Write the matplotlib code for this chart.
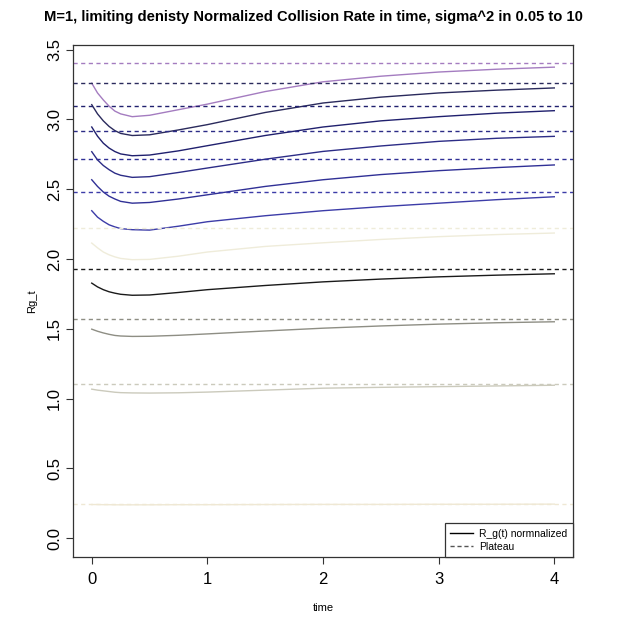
import matplotlib
matplotlib.use('Agg')
import matplotlib.pyplot as plt
from matplotlib.lines import Line2D

plt.rcParams['font.family'] = ['Liberation Sans', 'DejaVu Sans']

# time grid the curves were read at
time = [0, 0.05, 0.1, 0.15, 0.2, 0.25, 0.35, 0.5, 0.75, 1, 1.5, 2, 2.5, 3, 3.5, 4]

# normalized collision rate, one row per sigma^2 (top curve first)
rg_1 = [3.26, 3.19, 3.14, 3.095, 3.06, 3.04, 3.02, 3.03, 3.07, 3.11, 3.20, 3.27, 3.31, 3.34, 3.36, 3.375]
rg_2 = [3.106, 3.04, 2.99, 2.95, 2.92, 2.90, 2.885, 2.89, 2.925, 2.963, 3.05, 3.118, 3.16, 3.19, 3.21, 3.226]
rg_3 = [2.946, 2.88, 2.83, 2.795, 2.77, 2.753, 2.74, 2.745, 2.775, 2.812, 2.885, 2.946, 2.99, 3.02, 3.045, 3.063]
rg_4 = [2.769, 2.71, 2.67, 2.64, 2.615, 2.60, 2.585, 2.59, 2.62, 2.652, 2.715, 2.771, 2.81, 2.843, 2.865, 2.879]
rg_5 = [2.568, 2.52, 2.48, 2.45, 2.43, 2.413, 2.40, 2.405, 2.43, 2.46, 2.52, 2.568, 2.605, 2.633, 2.655, 2.674]
rg_6 = [2.346, 2.30, 2.27, 2.245, 2.23, 2.218, 2.21, 2.207, 2.235, 2.267, 2.31, 2.346, 2.375, 2.40, 2.425, 2.446]
rg_7 = [2.114, 2.08, 2.05, 2.03, 2.015, 2.004, 1.995, 1.997, 2.02, 2.05, 2.09, 2.116, 2.14, 2.16, 2.175, 2.186]
rg_8 = [1.827, 1.80, 1.78, 1.765, 1.755, 1.747, 1.74, 1.742, 1.76, 1.78, 1.81, 1.836, 1.856, 1.872, 1.884, 1.894]
rg_9 = [1.497, 1.482, 1.47, 1.46, 1.452, 1.448, 1.445, 1.446, 1.453, 1.463, 1.484, 1.504, 1.52, 1.533, 1.543, 1.55]
rg_10 = [1.067, 1.06, 1.055, 1.05, 1.045, 1.042, 1.040, 1.039, 1.041, 1.046, 1.06, 1.074, 1.08, 1.085, 1.09, 1.095]
rg_11 = [0.240, 0.240, 0.239, 0.239, 0.238, 0.238, 0.238, 0.238, 0.239, 0.239, 0.240, 0.241, 0.241, 0.242, 0.242, 0.243]

curves = [rg_1, rg_2, rg_3, rg_4, rg_5, rg_6, rg_7, rg_8, rg_9, rg_10, rg_11]
plateaus = [3.407, 3.262, 3.10, 2.92, 2.715, 2.478, 2.222, 1.93, 1.57, 1.105, 0.244]

colors = ['#a47cc0', '#2a2a5c', '#20206e', '#2c2c86', '#303096', '#3c3ca8',
          '#efecda', '#1a1a1a', '#8e8e84', '#cbcabc', '#efe8d4']

fig = plt.figure(figsize=(6.26, 6.18), dpi=100)
ax = fig.add_axes([0.117, 0.0987, 0.798, 0.829])

for rg, pl, c in zip(curves, plateaus, colors):
    ax.plot(time, rg, color=c, lw=1.0)
    ax.axhline(pl, color=c, lw=1.0, ls=(0, (3, 2.5)))

ax.set_xlim(-0.16, 4.16)
ax.set_ylim(-0.136, 3.536)
ax.set_xticks([0, 1, 2, 3, 4])
ax.set_yticks([0, 0.5, 1, 1.5, 2, 2.5, 3, 3.5])
ax.set_yticklabels(['0.0', '0.5', '1.0', '1.5', '2.0', '2.5', '3.0', '3.5'],
                   rotation=90, va='center')
ax.tick_params(direction='out', length=5, width=0.8, labelsize=12, color='#333333')
ax.tick_params(axis='x', pad=6)
ax.tick_params(axis='y', pad=3)
for s in ax.spines.values():
    s.set_color('#333333')
    s.set_linewidth(0.9)

ax.set_xlabel('time', fontsize=8, labelpad=11)
ax.set_ylabel('Rg_t', fontsize=8, labelpad=7)
fig.text(0.5, 0.973, 'M=1, limiting denisty Normalized Collision Rate in time, sigma^2 in 0.05 to 10',
         ha='center', va='center', fontsize=10.6, fontweight='bold')

handles = [Line2D([], [], color='black', lw=1.0),
           Line2D([], [], color='#555555', lw=1.0, ls=(0, (3, 2)))]
leg = ax.legend(handles, ['R_g(t) normnalized', 'Plateau'], loc='lower right',
                fontsize=7.5, frameon=True, fancybox=False, edgecolor='#333333',
                framealpha=1, borderaxespad=0, handlelength=2.2, labelspacing=0.3,
                borderpad=0.5, handletextpad=0.6)
leg.get_frame().set_linewidth(0.9)

plt.savefig('out.png', dpi=100)
